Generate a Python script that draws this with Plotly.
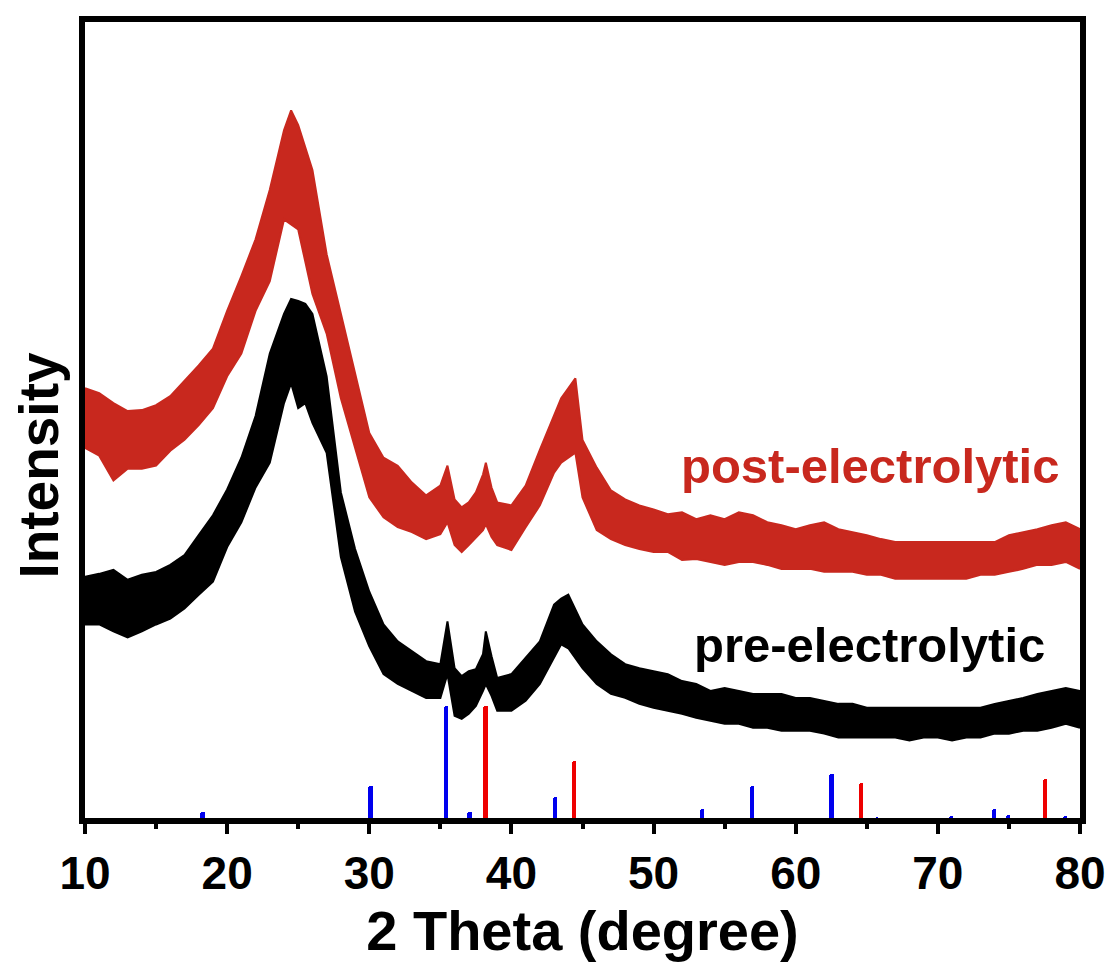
import plotly.graph_objects as go

# ---- pre-electrolytic (black) band: upper / lower envelope ----
pre_x = [10, 11, 12, 13, 14, 15, 16, 17, 18, 19, 20, 21, 22, 23, 24, 24.5, 25, 25.5, 26,
         27, 28, 29, 30, 31, 32, 33, 34, 35, 35.5, 36, 36.5, 37, 37.5, 38, 38.2, 38.6,
         39, 40, 41, 42, 43, 43.5, 44, 45, 46, 47, 48, 49, 50, 51, 52, 53, 54, 55, 56,
         57, 58, 59, 60, 61, 62, 63, 64, 65, 66, 67, 68, 69, 70, 71, 72, 73, 74, 75,
         76, 77, 78, 79, 80]
pre_hi = [245, 248, 252, 242, 247, 250, 257, 267, 287, 307, 333, 365, 407, 470, 510, 525, 523, 520, 510,
          447, 330, 273, 230, 197, 180, 170, 160, 157, 200, 153, 145, 150, 152, 167, 190, 165,
          143, 147, 163, 180, 217, 223, 227, 197, 180, 167, 157, 153, 150, 147, 140, 137, 130, 133, 130,
          127, 127, 127, 123, 123, 120, 117, 117, 113, 113, 113, 113, 113, 113, 113, 113, 113, 117, 120,
          123, 127, 130, 133, 130]
pre_lo = [197, 197, 190, 184, 190, 197, 203, 213, 227, 240, 275, 300, 335, 360, 420, 440, 415, 420, 400,
          370, 265, 210, 175, 147, 137, 130, 123, 123, 147, 105, 102, 107, 115, 130, 137, 125,
          110, 110, 120, 137, 163, 177, 173, 153, 137, 127, 123, 117, 113, 110, 107, 103, 100, 97, 97,
          93, 93, 90, 90, 90, 87, 83, 83, 83, 83, 83, 80, 83, 83, 80, 83, 83, 87, 87,
          90, 90, 93, 97, 93]

# ---- post-electrolytic (red) band ----
post_x = [10, 11, 12, 13, 14, 15, 16, 17, 18, 19, 20, 21, 22, 23, 24, 24.5, 25, 26, 27, 28, 29,
          30, 31, 32, 33, 34, 35, 35.5, 36, 36.5, 37, 37.5, 38, 38.2, 38.6, 39, 40, 41, 42, 43,
          43.5, 44, 44.5, 45, 46, 47, 48, 49, 50, 51, 52, 53, 54, 55, 56, 57, 58, 59, 60, 61,
          62, 63, 64, 65, 66, 67, 68, 69, 70, 71, 72, 73, 74, 75, 76, 77, 78, 79, 80]
post_hi = [435, 430, 420, 412, 413, 418, 427, 442, 458, 475, 513, 548, 585, 635, 695, 715, 700, 655, 570, 510, 450,
           390, 365, 357, 340, 327, 337, 357, 323, 315, 320, 330, 348, 360, 335, 320, 317, 337, 373, 407,
           425, 435, 445, 383, 355, 332, 323, 317, 313, 308, 310, 303, 307, 303, 310, 307, 300, 297, 293, 297,
           300, 293, 290, 287, 283, 280, 280, 280, 280, 280, 280, 280, 280, 287, 290, 293, 297, 300, 293]
post_lo = [375, 367, 342, 354, 354, 357, 372, 383, 398, 415, 447, 470, 513, 543, 605, 600, 595, 530, 490, 425, 375,
           325, 305, 295, 290, 283, 288, 300, 277, 270, 277, 285, 292, 298, 285, 277, 272, 295, 317, 350,
           360, 365, 370, 325, 292, 283, 277, 273, 270, 270, 262, 263, 260, 257, 260, 260, 257, 253, 253, 253,
           250, 250, 250, 247, 247, 243, 243, 243, 243, 243, 243, 247, 247, 250, 253, 257, 257, 260, 253]

# ---- reference stick patterns ----
blue_pos = [18.27, 30.09, 35.42, 37.05, 43.05, 53.39, 56.94, 62.51, 65.74, 70.92, 73.95, 74.96, 78.93]
blue_int = [8, 34, 115, 8, 23, 11, 34, 46, 3, 4, 11, 5, 4]
red_pos = [38.18, 44.39, 64.58, 77.55]
red_int = [115, 59, 37, 41]

x_ticks = [10, 20, 30, 40, 50, 60, 70, 80]
x_minor = [15, 25, 35, 45, 55, 65, 75]

BLACK = "#000000"
RED = "#C8281E"
FONT = "Liberation Sans, Arial, sans-serif"

fig = go.Figure()

def band(x, hi, lo, color):
    fig.add_trace(go.Scatter(x=x, y=hi, mode="lines", line=dict(color=color, width=2),
                             showlegend=False, hoverinfo="skip"))
    fig.add_trace(go.Scatter(x=x, y=lo, mode="lines", line=dict(color=color, width=2),
                             fill="tonexty", fillcolor=color, showlegend=False, hoverinfo="skip"))

band(post_x, post_hi, post_lo, RED)
band(pre_x, pre_hi, pre_lo, BLACK)

fig.add_trace(go.Bar(x=blue_pos, y=blue_int, width=0.3, marker=dict(color="#0000EE", line=dict(width=0),
                     cornerradius=2), showlegend=False))
fig.add_trace(go.Bar(x=red_pos, y=red_int, width=0.3, marker=dict(color="#EE0000", line=dict(width=0),
                     cornerradius=2), showlegend=False))

fig.add_annotation(x=65.2, y=357, text="<b>post-electrolytic</b>", showarrow=False,
                   font=dict(family=FONT, size=49, color=RED), xanchor="center", yanchor="middle")
fig.add_annotation(x=65.2, y=176, text="<b>pre-electrolytic</b>", showarrow=False,
                   font=dict(family=FONT, size=49, color=BLACK), xanchor="center", yanchor="middle")
fig.add_annotation(xref="paper", yref="paper", x=-0.046, y=0.443, text="<b>Intensity</b>",
                   textangle=-90, showarrow=False, xanchor="center", yanchor="middle",
                   borderpad=0, font=dict(family=FONT, size=55, color="black"))

fig.update_layout(
    width=1120, height=974,
    margin=dict(l=77, r=48, t=8, b=164),
    paper_bgcolor="white", plot_bgcolor="white",
    barmode="overlay", bargap=0,
    font=dict(family=FONT, color="black"),
)
fig.update_xaxes(
    range=[10, 80], tickmode="array", tickvals=x_ticks,
    ticks="outside", ticklen=10, tickwidth=4, tickcolor="black",
    tickfont=dict(family=FONT, size=46, color="black", weight="bold"),
    minor=dict(tickvals=x_minor, ticks="outside", ticklen=5, tickwidth=4, tickcolor="black"),
    showline=True, linewidth=6, linecolor="black", mirror=True,
    showgrid=False, zeroline=False,
    title=dict(text="<b>2 Theta (degree)</b>", font=dict(family=FONT, size=56, color="black"), standoff=12),
)
fig.update_yaxes(
    range=[2, 804], showticklabels=False, ticks="",
    showline=True, linewidth=6, linecolor="black", mirror=True,
    showgrid=False, zeroline=False,
)

fig.write_html("out.html")
